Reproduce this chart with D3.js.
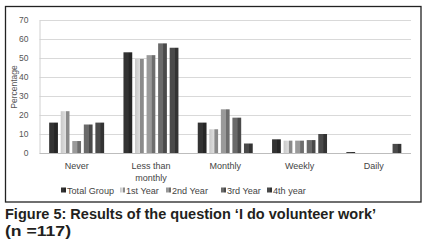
<!DOCTYPE html>
<html><head><meta charset="utf-8">
<script src="https://cdn.jsdelivr.net/npm/d3@7"></script>
<style>html,body{margin:0;padding:0;background:#fff;}svg{display:block;}</style>
</head><body>
<svg id="c" width="443" height="245"></svg>
<script>
const categories = ["Never", "Less than monthly", "Monthly", "Weekly", "Daily"];
const seriesNames = ["Total Group", "1st Year", "2nd Year", "3rd Year", "4th year"];
const totalGroup = [16, 53, 16, 7.2, 0.5];
const year1 = [22, 49.5, 12.5, 6.5, 0];
const year2 = [6.3, 51.5, 23, 6.5, 0];
const year3 = [15, 57.7, 18.6, 6.8, 0];
const year4 = [16, 55.4, 5, 10, 4.8];
const yTicks = [0, 10, 20, 30, 40, 50, 60, 70];
const colors = ["#333333", "#c8c8c8", "#9a9a9a", "#6a6a6a", "#4a4a4a"];
const edgeColors = ["#262626", "#8a8a8a", "#6e6e6e", "#4a4a4a", "#333333"];
const series = [totalGroup, year1, year2, year3, year4];

const svg = d3.select("#c");
const font = "Liberation Sans, Arial, sans-serif";

// border
svg.append("rect").attr("x", 5.5).attr("y", 6.5).attr("width", 415.5).attr("height", 195.5)
  .attr("fill", "none").attr("stroke", "#222").attr("stroke-width", 1.3);

const x0 = d3.scaleBand().domain(categories).range([39.5, 411]).paddingInner(0.26).paddingOuter(0.13);
const x1 = d3.scaleBand().domain(seriesNames).range([0, x0.bandwidth()]).paddingInner(0.24);
const y = d3.scaleLinear().domain([0, 70]).range([153, 20]);

// gradients
const defs = svg.append("defs");
seriesNames.forEach((s, i) => {
  const g = defs.append("linearGradient").attr("id", "g" + i).attr("x1", 0).attr("x2", 1).attr("y1", 0).attr("y2", 0);
  g.append("stop").attr("offset", "0%").attr("stop-color", colors[i]);
  g.append("stop").attr("offset", "55%").attr("stop-color", i === 1 ? "#dedede" : colors[i]);
  g.append("stop").attr("offset", "62%").attr("stop-color", edgeColors[i]);
  g.append("stop").attr("offset", "100%").attr("stop-color", edgeColors[i]);
});

// gridlines
svg.append("g").selectAll("line").data(yTicks.filter(t => t > 0)).join("line")
  .attr("x1", 39.5).attr("x2", 411).attr("y1", d => Math.round(y(d)) + 0.5).attr("y2", d => Math.round(y(d)) + 0.5)
  .attr("stroke", "#d9d9d9").attr("stroke-width", 1);

// y axis
const yAxis = svg.append("g").attr("transform", "translate(39.5,0)")
  .call(d3.axisLeft(y).tickValues(yTicks).tickSize(0).tickPadding(11));
yAxis.select(".domain").attr("stroke", "#d0d0d0");
yAxis.selectAll("text").attr("font-family", font).attr("font-size", 8.5).attr("fill", "#555");

svg.append("text").attr("transform", "translate(17,87) rotate(-90)").attr("text-anchor", "middle")
  .attr("font-family", font).attr("font-size", 8.5).attr("fill", "#555").text("Percentage");

// bars
const groups = svg.append("g").selectAll("g").data(categories).join("g")
  .attr("transform", d => `translate(${x0(d)},0)`);
groups.selectAll("rect").data((c, ci) => seriesNames.map((s, si) => ({ s, si, v: series[si][ci] })))
  .join("rect")
  .attr("x", d => x1(d.s)).attr("width", x1.bandwidth())
  .attr("y", d => y(d.v)).attr("height", d => y(0) - y(d.v))
  .attr("fill", d => `url(#g${d.si})`);

// x axis baseline
svg.append("line").attr("x1", 39.5).attr("x2", 411).attr("y1", 153.5).attr("y2", 153.5).attr("stroke", "#bdbdbd");

// x labels
const xl = svg.append("g");
categories.forEach(c => {
  const cx = x0(c) + x0.bandwidth() / 2;
  const lines = c === "Less than monthly" ? ["Less than", "monthly"] : [c];
  lines.forEach((t, i) => {
    xl.append("text").attr("x", cx).attr("y", 169 + i * 11.5).attr("text-anchor", "middle")
      .attr("font-family", font).attr("font-size", 9).attr("fill", "#444").text(t);
  });
});

// legend
const legendX = [61, 120, 166, 221, 267];
const lg = svg.append("g");
seriesNames.forEach((s, i) => {
  lg.append("rect").attr("x", legendX[i]).attr("y", 187.5).attr("width", 5).attr("height", 5).attr("fill", `url(#g${i})`);
  lg.append("text").attr("x", legendX[i] + 6).attr("y", 193.5).attr("font-family", font).attr("font-size", 9.1)
    .attr("fill", "#444").text(s);
});

// caption
svg.append("text").attr("x", 5).attr("y", 219).attr("font-family", font).attr("font-weight", "bold")
  .attr("font-size", 14).attr("fill", "#231f20").attr("textLength", 371).attr("lengthAdjust", "spacingAndGlyphs")
  .text("Figure 5: Results of the question \u2018I do volunteer work\u2019");
svg.append("text").attr("x", 5).attr("y", 236).attr("font-family", font).attr("font-weight", "bold")
  .attr("font-size", 14).attr("fill", "#231f20").attr("textLength", 66).attr("lengthAdjust", "spacingAndGlyphs")
  .text("(n =117)");
</script>
</body></html>
